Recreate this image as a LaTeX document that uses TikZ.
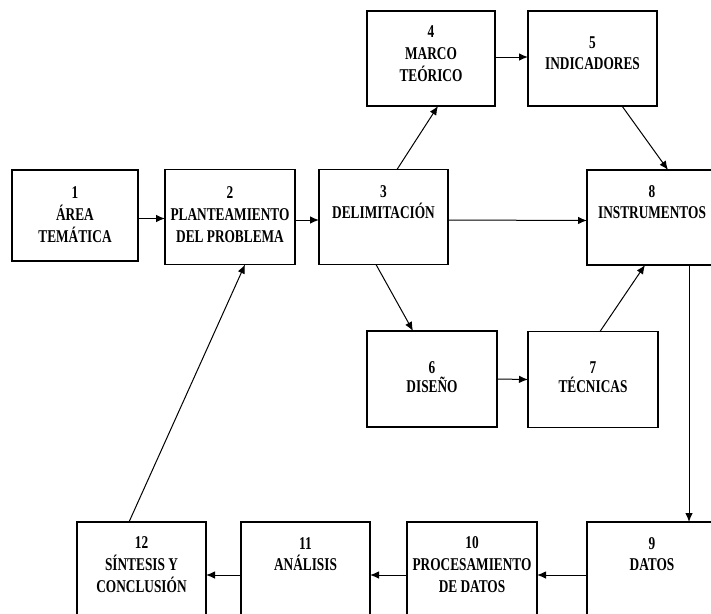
\documentclass[tikz,border=0pt]{standalone}
\usepackage{fontspec}
\usetikzlibrary{arrows.meta}
\newfontfamily\boxfont{Liberation Serif Bold}[FakeStretch=0.74]
\begin{document}
\begin{tikzpicture}[x=1pt,y=-1pt,
  box/.style={draw, line width=1.7pt, minimum width=129pt, minimum height=95pt, inner sep=0pt, outer sep=0pt},
  lbl/.style={align=center, inner sep=0pt, font=\boxfont\fontsize{18}{22}\selectfont},
  lbltwo/.style={lbl, font=\boxfont\fontsize{18}{21}\selectfont},
  lblshort/.style={lbl, font=\boxfont\fontsize{18}{18.5}\selectfont},
  arr/.style={line width=1pt, -{Latex[length=9pt,width=7.5pt]}}]
\useasboundingbox (0,0) rectangle (711,613);
\clip (0,0) rectangle (711,613);
% boxes
\node[box, minimum width=126pt, minimum height=91pt] (b1) at (75,215.5) {};
\node[box, minimum width=130pt] (b2) at (230,217) {};
\node[box] (b3) at (383.5,217) {};
\node[box, minimum width=130pt] (b8) at (652,217.5) {};
\node[box, minimum width=128pt] (b4) at (431,58.5) {};
\node[box] (b5) at (592.5,58.5) {};
\node[box, minimum width=130pt, minimum height=96pt] (b6) at (432,379) {};
\node[box, minimum width=130pt, minimum height=96pt] (b7) at (593,379.5) {};
\node[box] (b12) at (141.5,569.5) {};
\node[box] (b11) at (305.5,569.5) {};
\node[box, minimum width=130pt] (b10) at (472,569.5) {};
\node[box, minimum width=130pt] (b9) at (652,569.5) {};
% labels
\node[lbl] (t1) at (75,214.5) {1\\ÁREA\\TEMÁTICA};
\node[lbl] (t2) at (230,214.5) {2\\PLANTEAMIENTO\\DEL PROBLEMA};
\node[lbltwo] (t3) at (383.5,202) {3\\DELIMITACIÓN};
\node[lbltwo] (t8) at (652,202.5) {8\\INSTRUMENTOS};
\node[lbl] (t4) at (431,53.5) {4\\MARCO\\TEÓRICO};
\node[lbltwo] (t5) at (592.5,53) {5\\INDICADORES};
\node[lblshort] (t6) at (432,377) {6\\DISEÑO};
\node[lblshort] (t7) at (593,377) {7\\TÉCNICAS};
\node[lbl] (t12) at (141.5,565) {12\\SÍNTESIS Y\\CONCLUSIÓN};
\node[lbltwo] (t11) at (305.5,554) {11\\ANÁLISIS};
\node[lbl] (t10) at (472,565) {10\\PROCESAMIENTO\\DE DATOS};
\node[lbltwo] (t9) at (652,554) {9\\DATOS};
% connectors
\draw[arr] ([yshift=-3pt]b1.east) -- ([yshift=-3pt]b2.west |- b1.east);
\draw[arr] ([yshift=-3pt]b2.east) -- ([yshift=-3pt]b3.west);
\draw[arr] ([yshift=-3pt]b3.east) -- ([yshift=-3pt]b8.west);
\draw[arr] ([xshift=78pt]b3.north west) -- ([xshift=71pt]b4.south west);
\draw[arr] ([yshift=1.5pt]b4.east) -- ([yshift=1.5pt]b5.west);
\draw[arr] ([xshift=94pt]b5.south west) -- ([xshift=81pt]b8.north west);
\draw[arr] ([xshift=57pt]b3.south west) -- ([xshift=46pt]b6.north west);
\draw[arr] (b6.east) -- (b7.west);
\draw[arr] ([xshift=72pt]b7.north west) -- ([xshift=58pt]b8.south west);
\draw[arr] ([xshift=102pt]b8.south west) -- ([xshift=102pt]b9.north west);
\draw[arr] ([yshift=-5.5pt]b9.west) -- ([yshift=-5.5pt]b10.east);
\draw[arr] ([yshift=-5.5pt]b10.west) -- ([yshift=-5.5pt]b11.east);
\draw[arr] ([yshift=-5.5pt]b11.west) -- ([yshift=-5.5pt]b12.east);
\draw[arr] ([xshift=52pt]b12.north west) -- ([xshift=80pt]b2.south west);
\end{tikzpicture}
\end{document}
